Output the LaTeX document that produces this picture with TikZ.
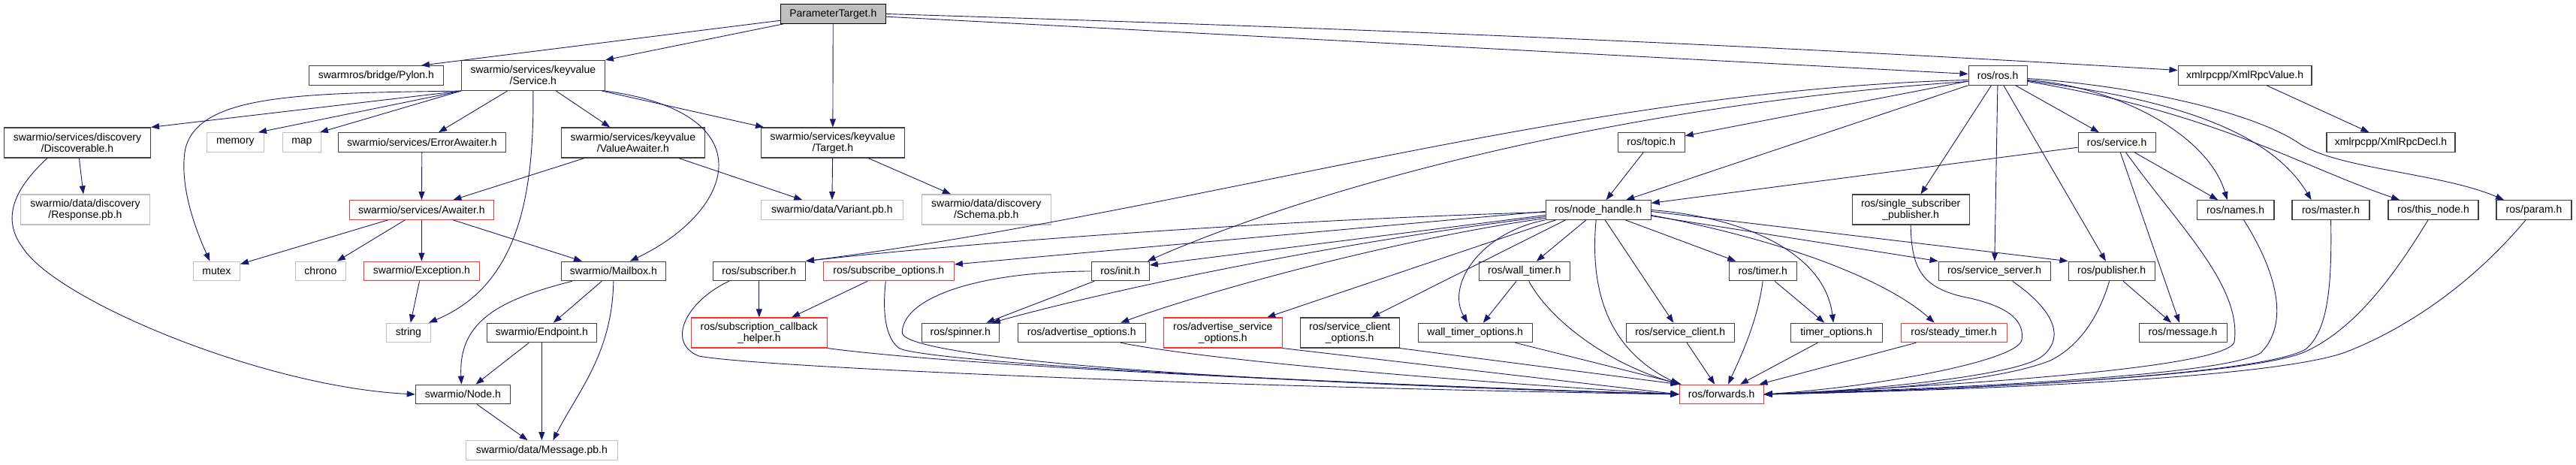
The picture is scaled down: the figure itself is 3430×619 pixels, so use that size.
\documentclass[tikz,border=0pt]{standalone}
\usepackage{fontspec}
\setmainfont{Liberation Sans}
\usepackage{xcolor}
\usepackage{tikz}
\usetikzlibrary{arrows.meta}
\definecolor{edgeBlue}{HTML}{191970}
\definecolor{boxLine}{HTML}{404040}
\definecolor{sysLine}{HTML}{BFBFBF}
\definecolor{truncLine}{HTML}{FF3030}
\definecolor{rootFill}{HTML}{BFBFBF}
\tikzset{
  hfile/.style={draw=boxLine, fill=white, line width=1.2pt, inner sep=0pt,
    minimum height=25.5pt, align=center, font=\fontsize{14}{15}\selectfont},
  sysfile/.style={hfile, draw=sysLine},
  redfile/.style={hfile, draw=truncLine},
  rootfile/.style={hfile, fill=rootFill, draw=black},
  tall/.style={minimum height=40pt},
}
\tikzset{
  dep/.style={draw=edgeBlue, line width=0.9pt, -{Triangle[length=11pt,width=8pt]}},
}

\begin{document}
\begin{tikzpicture}[x=1pt, y=-1pt]
      \path[fill=white] (0,0) rectangle (3430,619);
      % swarmio side
      \node[rootfile, minimum width=140pt] (pt) at (1109,18.5) {ParameterTarget.h};
      \node[hfile, minimum width=179pt] (pylon) at (500.5,100.5) {swarmros/bridge/Pylon.h};
      \node[hfile, tall, minimum width=191pt] (kvservice) at (709.5,100.5) {swarmio/services/keyvalue\\/Service.h};
      \node[hfile, tall, minimum width=195pt] (discov) at (102.5,190) {swarmio/services/discovery\\/Discoverable.h};
      \node[sysfile, minimum width=76pt] (memory) at (313,189.5) {memory};
      \node[sysfile, minimum width=51pt] (map) at (401.5,189.5) {map};
      \node[hfile, minimum width=223pt] (erraw) at (561.5,189.5) {swarmio/services/ErrorAwaiter.h};
      \node[hfile, tall, minimum width=191pt] (valaw) at (842.5,190) {swarmio/services/keyvalue\\/ValueAwaiter.h};
      \node[hfile, tall, minimum width=191pt] (kvtarget) at (1108.5,190) {swarmio/services/keyvalue\\/Target.h};
      \node[sysfile, tall, minimum width=172pt] (response) at (113,279) {swarmio/data/discovery\\/Response.pb.h};
      \node[redfile, minimum width=192pt] (awaiter) at (561,279.5) {swarmio/services/Awaiter.h};
      \node[sysfile, minimum width=189pt] (variant) at (1107.5,279.5) {swarmio/data/Variant.pb.h};
      \node[sysfile, tall, minimum width=172pt] (schema) at (1313,279) {swarmio/data/discovery\\/Schema.pb.h};
      \node[sysfile, minimum width=62pt] (mutex) at (288,361) {mutex};
      \node[sysfile, minimum width=67pt] (chrono) at (426.5,361) {chrono};
      \node[redfile, minimum width=154pt] (exception) at (561,361) {swarmio/Exception.h};
      \node[hfile, minimum width=139pt] (mailbox) at (816.5,361) {swarmio/Mailbox.h};
      \node[sysfile, minimum width=59pt] (string) at (543.5,443) {string};
      \node[hfile, minimum width=146pt] (endpoint) at (721,443) {swarmio/Endpoint.h};
      \node[hfile, minimum width=126pt] (swnode) at (616,525) {swarmio/Node.h};
      \node[sysfile, minimum width=202pt] (msgpb) at (721,599.5) {swarmio/data/Message.pb.h};
      % ros side
      \node[hfile, minimum width=123pt] (subscriber) at (1010.5,361) {ros/subscriber.h};
      \node[redfile, minimum width=174pt] (subopts) at (1183,361) {ros/subscribe\_options.h};
      \node[hfile, minimum width=77pt] (init) at (1491.5,361) {ros/init.h};
      \node[redfile, tall, minimum width=181pt] (cbhelper) at (1010.5,443) {ros/subscription\_callback\\\_helper.h};
      \node[hfile, minimum width=103pt] (spinner) at (1278.5,443) {ros/spinner.h};
      \node[hfile, minimum width=170pt] (advopts) at (1440,443) {ros/advertise\_options.h};
      \node[redfile, tall, minimum width=158pt] (advsrvopts) at (1628,443) {ros/advertise\_service\\\_options.h};
      \node[hfile, tall, minimum width=132pt] (clopts) at (1797,443) {ros/service\_client\\\_options.h};
      \node[hfile, minimum width=152pt] (wtopts) at (1964,443) {wall\_timer\_options.h};
      \node[hfile, minimum width=121pt] (walltimer) at (2029.5,361) {ros/wall\_timer.h};
      \node[hfile, minimum width=144pt] (srvclient) at (2237,443) {ros/service\_client.h};
      \node[hfile, minimum width=90pt] (timer) at (2347,361) {ros/timer.h};
      \node[hfile, minimum width=122pt] (topts) at (2445,443) {timer\_options.h};
      \node[redfile, minimum width=112pt] (forwards) at (2292,525) {ros/forwards.h};
      \node[redfile, minimum width=141pt] (steady) at (2601.5,443) {ros/steady\_timer.h};
      \node[hfile, minimum width=89pt] (topic) at (2198.5,189.5) {ros/topic.h};
      \node[hfile, minimum width=140pt] (nh) at (2128,279.5) {ros/node\_handle.h};
      \node[hfile, tall, minimum width=156pt] (ssp) at (2544,279) {ros/single\_subscriber\\\_publisher.h};
      \node[hfile, minimum width=78pt] (ros) at (2660,100.5) {ros/ros.h};
      \node[hfile, minimum width=178pt] (xmlvalue) at (2989,100.5) {xmlrpcpp/XmlRpcValue.h};
      \node[hfile, minimum width=103pt] (rossrv) at (2818.5,189.5) {ros/service.h};
      \node[hfile, minimum width=171pt] (xmldecl) at (3183.5,189.5) {xmlrpcpp/XmlRpcDecl.h};
      \node[hfile, minimum width=103pt] (names) at (2976.5,279.5) {ros/names.h};
      \node[hfile, minimum width=103pt] (master) at (3103.5,279.5) {ros/master.h};
      \node[hfile, minimum width=120pt] (thisnode) at (3240,279.5) {ros/this\_node.h};
      \node[hfile, minimum width=100pt] (param) at (3374,279.5) {ros/param.h};
      \node[hfile, minimum width=149pt] (srvserver) at (2655.5,361) {ros/service\_server.h};
      \node[hfile, minimum width=115pt] (publisher) at (2811.5,361) {ros/publisher.h};
      \node[hfile, minimum width=117pt] (rosmsg) at (2906.5,443) {ros/message.h};
      % includes of the root
      \draw[dep] (pt) -- ([xshift=60pt]pylon.north);
      \draw[dep] (pt) -- (kvservice.north east);
      \draw[dep] (pt) -- (kvtarget);
      \draw[dep] (pt) -- (ros);
      \draw[dep] (pt.east) .. controls (1779,37) and (2300,57.5) .. ([yshift=7pt]xmlvalue.west);
      % swarmio includes
      \draw[dep] (kvservice.south west) -- (discov.north east);
      \draw[dep] (kvservice.south west) -- ([xshift=-8pt]memory.north east);
      \draw[dep] (kvservice.south west) -- ([xshift=-2pt]map.north east);
      \draw[dep] (kvservice) -- (erraw);
      \draw[dep] (kvservice) -- (valaw);
      \draw[dep] (kvservice) -- (kvtarget);
      \draw[dep] (kvservice.south west) .. controls (400,124) and (262,125) .. (246,200)
        .. controls (238,250) and (262,310) .. ([xshift=-9pt]mutex.north);
      \draw[dep] (kvservice.south) .. controls (711,260) and (690,380) .. ([xshift=-3pt]string.north east);
      \draw[dep] (kvservice.south east) .. controls (1020,150) and (980,280) .. ([xshift=22pt]mailbox.north);
      \draw[dep] (discov) -- (response);
      \draw[dep] ([xshift=-40pt]discov.south) .. controls (20,250) and (0,290) .. (30,330)
        .. controls (75,400) and (350,515) .. (swnode.west);
      \draw[dep] (erraw) -- (awaiter);
      \draw[dep] (valaw) -- (awaiter);
      \draw[dep] (valaw) -- (variant);
      \draw[dep] (kvtarget) -- (variant);
      \draw[dep] (kvtarget) -- (schema);
      \draw[dep] (awaiter) -- (mutex);
      \draw[dep] (awaiter) -- (chrono);
      \draw[dep] (awaiter) -- (exception);
      \draw[dep] (awaiter) -- (mailbox);
      \draw[dep] (exception) -- (string);
      \draw[dep] ([xshift=-55pt]mailbox.south) .. controls (660,400) and (610,430) .. ([xshift=-2pt]swnode.north);
      \draw[dep] (mailbox) -- (endpoint);
      \draw[dep] (mailbox.south) .. controls (815,470) and (770,520) .. ([xshift=15pt]msgpb.north);
      \draw[dep] (endpoint) -- (swnode);
      \draw[dep] (endpoint) -- (msgpb);
      \draw[dep] (swnode) -- (msgpb);
      % ros.h
      \draw[dep] (ros) -- (topic);
      \draw[dep] (ros) -- ([xshift=37pt]nh.north);
      \draw[dep] (ros) -- (ssp);
      \draw[dep] (ros) -- (srvserver);
      \draw[dep] (ros) -- (publisher);
      \draw[dep] (ros) -- (rossrv);
      \draw[dep] ([yshift=-6pt]ros.west) .. controls (2100,120) and (1600,280) .. (subscriber.north east);
      \draw[dep] ([yshift=-8pt]ros.west) .. controls (2150,140) and (1750,250) .. ([xshift=-3pt]init.north east);
      \draw[dep] ([yshift=-6pt]ros.east) .. controls (2820,115) and (2940,180) .. ([xshift=-11pt]names.north);
      \draw[dep] ([yshift=-7pt]ros.east) .. controls (2880,130) and (3020,170) .. ([xshift=-26pt]master.north);
      \draw[dep] ([yshift=-8pt]ros.east) .. controls (2950,150) and (3060,220) .. ([xshift=-45pt]thisnode.north);
      \draw[dep] ([yshift=-4pt]ros.east) .. controls (2850,115) and (3000,150) .. (3060,190)
        .. controls (3110,225) and (3250,230) .. ([xshift=-40pt]param.north);
      \draw[dep] (xmlvalue) -- (xmldecl);
      \draw[dep] (rossrv) -- (nh);
      \draw[dep] (rossrv) -- (names);
      \draw[dep] (rossrv) -- (rosmsg);
      \draw[dep] (topic) -- (nh);
      % node_handle.h
      \draw[dep] ([yshift=-3pt]nh.west) .. controls (1700,293) and (1300,322) .. (subscriber.north east);
      \draw[dep] ([yshift=-2pt]nh.west) -- ([yshift=9pt]subopts.east);
      \draw[dep] ([yshift=-7pt]nh.west) -- ([yshift=8pt]init.east);
      \draw[dep] ([yshift=-9pt]nh.west) .. controls (1800,320) and (1500,380) .. ([xshift=-10pt]spinner.north east);
      \draw[dep] ([yshift=-11pt]nh.west) .. controls (1850,320) and (1600,390) .. ([xshift=52pt]advopts.north);
      \draw[dep] ([xshift=14pt]nh.south west) -- ([xshift=59pt]advsrvopts.north);
      \draw[dep] ([xshift=27pt]nh.south west) -- ([xshift=29pt]clopts.north);
      \draw[dep] (nh.south west) .. controls (1970,310) and (1925,380) .. ([xshift=-10pt]wtopts.north);
      \draw[dep] (nh) -- (walltimer);
      \draw[dep] (nh) -- (srvclient);
      \draw[dep] (nh) -- (timer);
      \draw[dep] ([xshift=-3pt]nh.south) .. controls (2115,400) and (2150,470) .. (forwards.north west);
      \draw[dep] (nh.east) .. controls (2330,290) and (2430,340) .. ([xshift=-4pt]topts.north);
      \draw[dep] ([yshift=-7pt]nh.east) .. controls (2400,325) and (2520,380) .. ([xshift=-26pt]steady.north);
      \draw[dep] ([yshift=-8pt]nh.east) -- (srvserver.north west);
      \draw[dep] ([yshift=-2pt]nh.east) -- (publisher.north west);
      \draw[dep] (walltimer) -- (wtopts);
      \draw[dep] ([xshift=6pt]walltimer.south) .. controls (2060,420) and (2130,480) .. (forwards.north west);
      \draw[dep] (timer) -- (topts);
      \draw[dep] (timer.south) .. controls (2340,430) and (2315,480) .. ([xshift=9pt]forwards.north);
      \draw[dep] (init) -- (spinner);
      \draw[dep] (subscriber) -- (cbhelper);
      \draw[dep] (subopts) -- (cbhelper);
      \draw[dep] (publisher) -- (rosmsg);
      % ros/forwards.h
      \draw[dep] ([xshift=-40pt]subscriber.south) .. controls (915,400) and (885,455) .. (930,474)
        .. controls (1000,488) and (1600,515) .. (forwards.west);
      \draw[dep] (cbhelper.south east) .. controls (1300,490) and (1900,515) .. (forwards.west);
      \draw[dep] ([xshift=-4pt]subopts.south) .. controls (1174,420) and (1180,450) .. (1196,463)
        .. controls (1215,478) and (1600,505) .. (forwards.west);
      \draw[dep] (init.west) .. controls (1290,362) and (1201,400) .. (1201,443)
        .. controls (1201,470) and (1500,505) .. (forwards.west);
      \draw[dep] ([xshift=52pt]advopts.south) .. controls (1600,478) and (1900,505) .. (forwards.west);
      \draw[dep] (advsrvopts.south east) -- (forwards.west);
      \draw[dep] (clopts.south east) -- (forwards.north west);
      \draw[dep] (wtopts) -- (forwards);
      \draw[dep] (srvclient) -- (forwards);
      \draw[dep] (topts) -- (forwards);
      \draw[dep] (steady) -- (forwards);
      \draw[dep] ([xshift=24pt]srvserver.south) .. controls (2745,420) and (2745,455) .. (2718,475)
        .. controls (2680,503) and (2450,522) .. (forwards.east);
      \draw[dep] ([xshift=-3pt]publisher.south) .. controls (2795,420) and (2770,460) .. (2730,480)
        .. controls (2650,512) and (2450,522) .. (forwards.east);
      \draw[dep] (ssp.south) .. controls (2545,360) and (2560,385) .. (2623,397)
        .. controls (2680,410) and (2695,430) .. (2692,452)
        .. controls (2689,480) and (2500,515) .. (forwards.east);
      \draw[dep] ([xshift=12pt]rossrv.south) .. controls (2900,300) and (2985,380) .. (2975,455)
        .. controls (2965,495) and (2500,518) .. (forwards.east);
      \draw[dep] ([xshift=11pt]names.south) .. controls (3030,360) and (3050,430) .. (3010,470)
        .. controls (2950,505) and (2500,520) .. (forwards.east);
      \draw[dep] (master.south) .. controls (3105,380) and (3100,440) .. (3070,465)
        .. controls (3000,505) and (2500,522) .. (forwards.east);
      \draw[dep] ([xshift=-7pt]thisnode.south) .. controls (3180,380) and (3130,440) .. (3070,468)
        .. controls (2990,505) and (2500,522) .. (forwards.east);
      \draw[dep] ([xshift=-11pt]param.south) .. controls (3290,380) and (3200,440) .. (3120,470)
        .. controls (3000,510) and (2500,522) .. (forwards.east);
    \end{tikzpicture}
\end{document}
